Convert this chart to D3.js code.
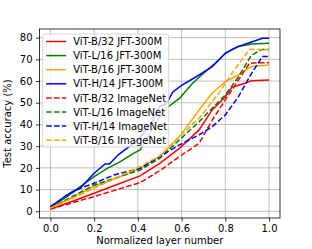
<!DOCTYPE html>
<html>
<head>
<meta charset="utf-8">
<script src="https://cdn.jsdelivr.net/npm/d3@7"></script>
<style>
  body { margin: 0; background: #fff; }
  text { font-family: "DejaVu Sans", sans-serif; }
</style>
</head>
<body>
<script>
const width = 312;
const height = 249;

// The data
const xTicks = [0.0, 0.2, 0.4, 0.6, 0.8, 1.0];
const yTicks = [0, 10, 20, 30, 40, 50, 60, 70, 80];

const b32JftX = [0, 0.076, 0.2, 0.32, 0.41, 0.5, 0.59, 0.68, 0.74, 0.8, 0.83, 0.89, 0.92, 1.0];
const b32JftY = [1, 3.7, 8.3, 12.9, 16.3, 22.1, 29, 37.5, 46.7, 52.8, 57.1, 59, 60.2, 60.5];

const l16JftX = [0, 0.076, 0.136, 0.2, 0.26, 0.32, 0.38, 0.41, 0.44, 0.48, 0.53, 0.59, 0.65, 0.71, 0.77, 0.8, 0.86, 0.92, 1.0];
const l16JftY = [2, 6.8, 11.4, 16, 19.8, 22.9, 26.7, 28.3, 33, 40.5, 47.5, 52, 59, 64.4, 69.7, 72.8, 75.9, 77.1, 77.4];

const b16JftX = [0, 0.076, 0.2, 0.32, 0.41, 0.5, 0.59, 0.68, 0.74, 0.8, 0.86, 0.92, 1.0];
const b16JftY = [1.5, 5.2, 11.4, 16, 19.8, 25.2, 34.4, 46.7, 54.4, 59.8, 62.8, 66.7, 67.4];

const h14JftX = [0, 0.076, 0.1, 0.136, 0.2, 0.25, 0.27, 0.31, 0.38, 0.41, 0.47, 0.5, 0.53, 0.56, 0.6, 0.68, 0.74, 0.8, 0.83, 0.86, 0.92, 0.97, 1.0];
const h14JftY = [2, 7.5, 9, 10.6, 17.5, 21.8, 21.8, 26, 31.3, 34, 42, 48.5, 49.5, 55, 58, 62.8, 66.7, 72.8, 74.6, 76, 78, 79.7, 79.7];

const b32InX = [0, 0.2, 0.41, 0.5, 0.59, 0.68, 0.74, 0.8, 0.86, 0.91, 0.95, 1.0];
const b32InY = [1, 6.8, 13.2, 18.7, 25.2, 31.3, 42, 51.3, 60.5, 68.2, 68.5, 68.5];

const l16InX = [0, 0.2, 0.41, 0.5, 0.59, 0.68, 0.8, 0.86, 0.92, 0.97, 1.0];
const l16InY = [1.5, 12.1, 19, 24.4, 32.9, 41.3, 53.6, 62, 72, 74.6, 74.6];

const h14InX = [0, 0.076, 0.136, 0.2, 0.29, 0.41, 0.5, 0.59, 0.68, 0.74, 0.8, 0.86, 0.92, 0.97, 1.0];
const h14InY = [2, 7.5, 10.6, 12.9, 16.7, 19.8, 25.2, 30.6, 35.2, 39, 44.4, 52.8, 63.6, 71.3, 71.3];

const b16InX = [0, 0.2, 0.41, 0.5, 0.59, 0.68, 0.77, 0.83, 0.91, 1.0];
const b16InY = [1.5, 10.6, 20.6, 25.5, 34.4, 42.9, 54.4, 63.6, 74.6, 74.6];

const seriesNames = ['ViT-B/32 JFT-300M', 'ViT-L/16 JFT-300M', 'ViT-B/16 JFT-300M', 'ViT-H/14 JFT-300M',
  'ViT-B/32 ImageNet', 'ViT-L/16 ImageNet', 'ViT-H/14 ImageNet', 'ViT-B/16 ImageNet'];
const seriesX = [b32JftX, l16JftX, b16JftX, h14JftX, b32InX, l16InX, h14InX, b16InX];
const seriesY = [b32JftY, l16JftY, b16JftY, h14JftY, b32InY, l16InY, h14InY, b16InY];
const seriesColor = ['red', 'green', 'orange', 'blue', 'red', 'green', 'blue', 'orange'];
const seriesDashed = [false, false, false, false, true, true, true, true];

// The svg
const margin = {left: 39.5, right: 32, top: 29, bottom: 31};
const plotW = width - margin.left - margin.right;
const plotH = height - margin.top - margin.bottom;

const svg = d3.select('body')
  .append('svg')
  .attr('width', width)
  .attr('height', height);

const g = svg.append('g')
  .attr('transform', 'translate(' + margin.left + ',' + margin.top + ')');

const x = d3.scaleLinear().domain([-0.05, 1.05]).range([0, plotW]);
const y = d3.scaleLinear().domain([-3.1, 84]).range([plotH, 0]);

// grid
g.append('g')
  .selectAll('line.gx')
  .data(xTicks)
  .join('line')
  .attr('x1', d => x(d)).attr('x2', d => x(d))
  .attr('y1', 0).attr('y2', plotH)
  .attr('stroke', '#b0b0b0').attr('stroke-width', 0.8);

g.append('g')
  .selectAll('line.gy')
  .data(yTicks)
  .join('line')
  .attr('y1', d => y(d)).attr('y2', d => y(d))
  .attr('x1', 0).attr('x2', plotW)
  .attr('stroke', '#b0b0b0').attr('stroke-width', 0.8);

// lines
const line = d3.line();
seriesNames.forEach(function(name, i) {
  const pts = seriesX[i].map((v, j) => [x(v), y(seriesY[i][j])]);
  g.append('path')
    .attr('d', line(pts))
    .attr('fill', 'none')
    .attr('stroke', seriesColor[i])
    .attr('stroke-width', 1.5)
    .attr('stroke-dasharray', seriesDashed[i] ? '5.5,2.4' : null);
});

// axes
const xAxis = g.append('g')
  .attr('transform', 'translate(0,' + plotH + ')')
  .call(d3.axisBottom(x).tickValues(xTicks).tickFormat(d3.format('.1f')).tickSize(3.5).tickPadding(3.5));
const yAxis = g.append('g')
  .call(d3.axisLeft(y).tickValues(yTicks).tickSize(3.5).tickPadding(3.5));
[xAxis, yAxis].forEach(function(a) {
  a.select('.domain').remove();
  a.selectAll('text').style('font-size', '10px').attr('fill', '#000');
  a.selectAll('line').attr('stroke', '#000').attr('stroke-width', 0.8);
});

g.append('rect')
  .attr('width', plotW).attr('height', plotH)
  .attr('fill', 'none').attr('stroke', '#000').attr('stroke-width', 0.8);

// axis labels
svg.append('text')
  .attr('x', margin.left + plotW / 2)
  .attr('y', 244)
  .style('font-size', '10px')
  .style('text-anchor', 'middle')
  .text('Normalized layer number');

svg.append('text')
  .attr('transform', 'translate(11,' + (margin.top + plotH / 2) + ') rotate(-90)')
  .style('font-size', '10px')
  .style('text-anchor', 'middle')
  .text('Test accuracy (%)');

// legend
const legend = g.append('g').attr('transform', 'translate(3.2,5)');
legend.append('rect')
  .attr('width', 126).attr('height', 113)
  .attr('rx', 2)
  .attr('fill', 'white').attr('fill-opacity', 0.8)
  .attr('stroke', '#cccccc').attr('stroke-width', 0.8);

seriesNames.forEach(function(name, i) {
  const ly = 7.5 + i * 14.1;
  legend.append('line')
    .attr('x1', 3.5).attr('x2', 23.5)
    .attr('y1', ly).attr('y2', ly)
    .attr('stroke', seriesColor[i])
    .attr('stroke-width', 1.5)
    .attr('stroke-dasharray', seriesDashed[i] ? '5.5,2.4' : null);
  legend.append('text')
    .attr('x', 30.5).attr('y', ly + 3.6)
    .style('font-size', '10px')
    .text(name);
});
</script>
</body>
</html>
